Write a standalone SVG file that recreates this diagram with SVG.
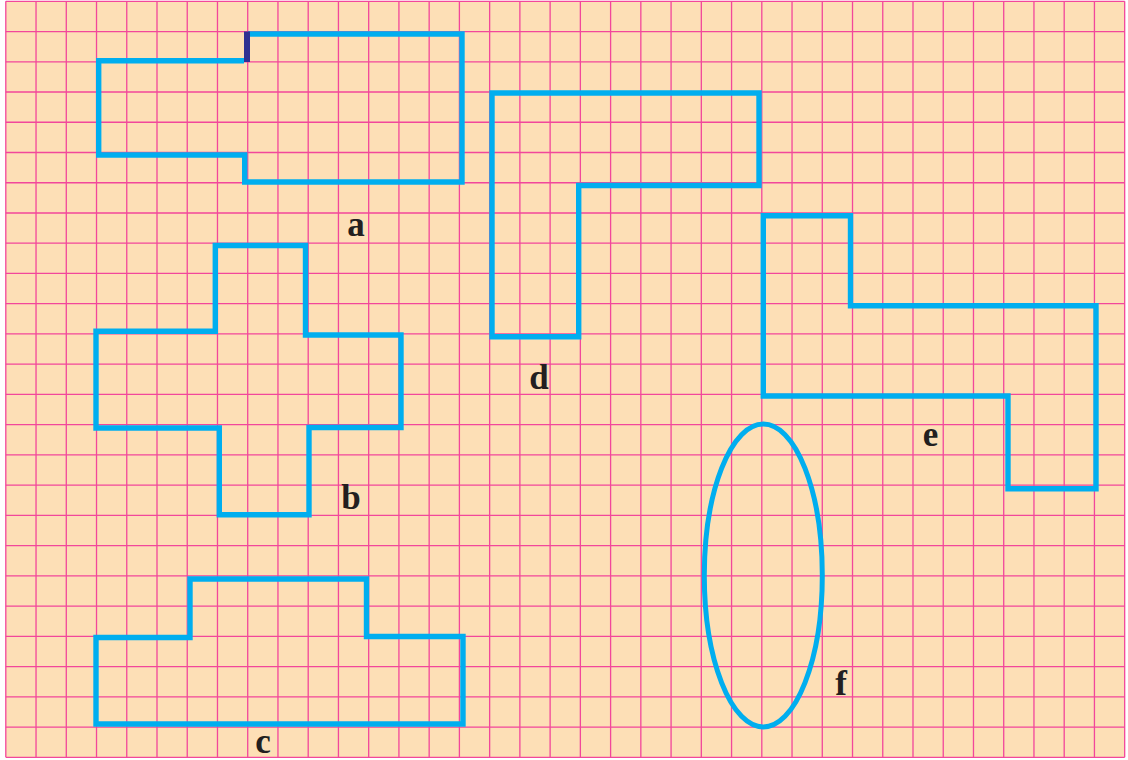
<svg xmlns="http://www.w3.org/2000/svg" width="1128" height="760" viewBox="0 0 1128 760">
<style>
.grid{stroke:#F2479B;stroke-width:1.3;fill:none}
.shape{fill:none;stroke:#00AEEF;stroke-width:5.4;stroke-linejoin:miter;stroke-linecap:square}
.lbl{font-family:"Liberation Serif","Times New Roman",serif;font-weight:bold;font-size:35px;fill:#231F20;text-anchor:middle}
</style>
<rect x="0" y="0" width="1128" height="760" fill="#FFFFFF"/>
<rect x="5.8" y="1.3" width="1118.9" height="756" fill="#FDDFB6"/>
<g id="grid">
<path class="grid" d="M5.8 1.3V757.3M36.04 1.3V757.3M66.28 1.3V757.3M96.52 1.3V757.3M126.76 1.3V757.3M157 1.3V757.3M187.24 1.3V757.3M217.48 1.3V757.3M247.72 1.3V757.3M277.96 1.3V757.3M308.2 1.3V757.3M338.44 1.3V757.3M368.68 1.3V757.3M398.92 1.3V757.3M429.16 1.3V757.3M459.4 1.3V757.3M489.64 1.3V757.3M519.88 1.3V757.3M550.12 1.3V757.3M580.36 1.3V757.3M610.6 1.3V757.3M640.84 1.3V757.3M671.08 1.3V757.3M701.32 1.3V757.3M731.56 1.3V757.3M761.8 1.3V757.3M792.04 1.3V757.3M822.28 1.3V757.3M852.52 1.3V757.3M882.76 1.3V757.3M913 1.3V757.3M943.24 1.3V757.3M973.48 1.3V757.3M1003.72 1.3V757.3M1033.96 1.3V757.3M1064.2 1.3V757.3M1094.44 1.3V757.3M1124.68 1.3V757.3"/>
<path class="grid" d="M5.8 1.3H1124.68M5.8 31.54H1124.68M5.8 61.78H1124.68M5.8 92.02H1124.68M5.8 122.26H1124.68M5.8 152.5H1124.68M5.8 182.74H1124.68M5.8 212.98H1124.68M5.8 243.22H1124.68M5.8 273.46H1124.68M5.8 303.7H1124.68M5.8 333.94H1124.68M5.8 364.18H1124.68M5.8 394.42H1124.68M5.8 424.66H1124.68M5.8 454.9H1124.68M5.8 485.14H1124.68M5.8 515.38H1124.68M5.8 545.62H1124.68M5.8 575.86H1124.68M5.8 606.1H1124.68M5.8 636.34H1124.68M5.8 666.58H1124.68M5.8 696.82H1124.68M5.8 727.06H1124.68M5.8 757.3H1124.68"/>
</g>
<g id="shape-a">
<polyline class="shape" style="stroke-linecap:butt" points="248,34 462,34 462,182 244.7,182 244.7,155 98.7,155 98.7,60.8 244,60.8"/>
<line x1="247" y1="31.5" x2="247" y2="62" stroke="#2E3192" stroke-width="6"/>
<text class="lbl" x="356" y="236">a</text>
</g>
<g id="shape-b">
<polygon class="shape" points="215.3,245.5 305.5,245.5 305.5,335 401,335 401,427.5 309,427.5 309,514.7 219.3,514.7 219.3,428 96,428 96,331.3 215.3,331.3"/>
<text class="lbl" x="351" y="509">b</text>
</g>
<g id="shape-c">
<polygon class="shape" points="190,579 366.5,579 366.5,636.5 463,636.5 463,724 96,724 96,637.5 190,637.5"/>
<text class="lbl" x="263" y="753">c</text>
</g>
<g id="shape-d">
<polygon class="shape" points="492,93 759,93 759,185.5 578.7,185.5 578.7,336.7 492,336.7"/>
<text class="lbl" x="539" y="389">d</text>
</g>
<g id="shape-e">
<polygon class="shape" points="763.3,215.8 850.5,215.8 850.5,305.7 1096,305.7 1096,488.7 1008,488.7 1008,396 763.3,396"/>
<text class="lbl" x="930.5" y="446">e</text>
</g>
<g id="shape-f">
<ellipse cx="763.3" cy="575.5" rx="59" ry="151.5" fill="none" stroke="#00AEEF" stroke-width="5"/>
<text class="lbl" x="841" y="695">f</text>
</g>
<g id="connectors"></g>
</svg>
